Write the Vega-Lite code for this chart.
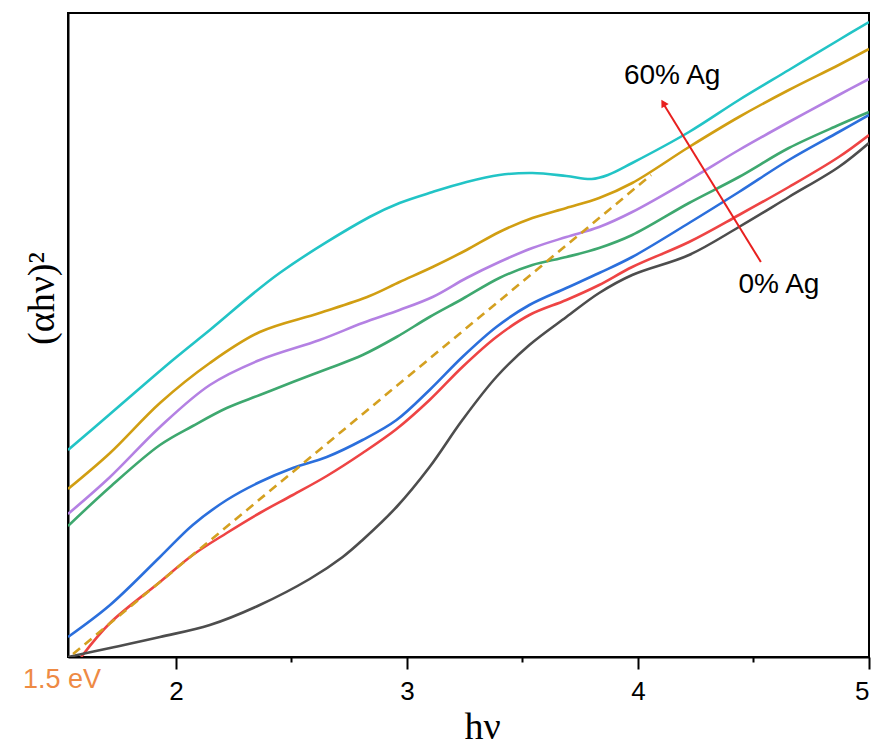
{
  "$schema": "https://vega.github.io/schema/vega-lite/v6.json",
  "width": 801,
  "height": 644,
  "autosize": "none",
  "padding": {"left": 68, "top": 13, "right": 9, "bottom": 90},
  "background": "white",
  "config": {
    "view": {"stroke": "black", "strokeWidth": 2},
    "font": "Liberation Sans"
  },
  "datasets": {
    "curves": [
      {"s": "60% Ag", "x": 1.533, "y": 207}, {"s": "60% Ag", "x": 1.715, "y": 243}, {"s": "60% Ag", "x": 1.987, "y": 297}, {"s": "60% Ag", "x": 2.147, "y": 327}, {"s": "60% Ag", "x": 2.449, "y": 384}, {"s": "60% Ag", "x": 2.838, "y": 440}, {"s": "60% Ag", "x": 2.968, "y": 454}, {"s": "60% Ag", "x": 3.111, "y": 465}, {"s": "60% Ag", "x": 3.258, "y": 475}, {"s": "60% Ag", "x": 3.4, "y": 482}, {"s": "60% Ag", "x": 3.543, "y": 484}, {"s": "60% Ag", "x": 3.69, "y": 481}, {"s": "60% Ag", "x": 3.8, "y": 478}, {"s": "60% Ag", "x": 3.87, "y": 482}, {"s": "60% Ag", "x": 3.975, "y": 494}, {"s": "60% Ag", "x": 4.221, "y": 525}, {"s": "60% Ag", "x": 4.437, "y": 557}, {"s": "60% Ag", "x": 4.653, "y": 587}, {"s": "60% Ag", "x": 4.869, "y": 617}, {"s": "60% Ag", "x": 5.0, "y": 635},
      {"s": "50% Ag", "x": 1.533, "y": 168}, {"s": "50% Ag", "x": 1.715, "y": 204}, {"s": "50% Ag", "x": 1.931, "y": 254}, {"s": "50% Ag", "x": 2.147, "y": 294}, {"s": "50% Ag", "x": 2.363, "y": 325}, {"s": "50% Ag", "x": 2.622, "y": 344}, {"s": "50% Ag", "x": 2.838, "y": 361}, {"s": "50% Ag", "x": 2.968, "y": 375}, {"s": "50% Ag", "x": 3.111, "y": 390}, {"s": "50% Ag", "x": 3.258, "y": 407}, {"s": "50% Ag", "x": 3.4, "y": 425}, {"s": "50% Ag", "x": 3.543, "y": 439}, {"s": "50% Ag", "x": 3.69, "y": 449}, {"s": "50% Ag", "x": 3.832, "y": 459}, {"s": "50% Ag", "x": 3.975, "y": 474}, {"s": "50% Ag", "x": 4.221, "y": 510}, {"s": "50% Ag", "x": 4.437, "y": 540}, {"s": "50% Ag", "x": 4.653, "y": 567}, {"s": "50% Ag", "x": 4.869, "y": 592}, {"s": "50% Ag", "x": 5.0, "y": 608},
      {"s": "40% Ag", "x": 1.533, "y": 143}, {"s": "40% Ag", "x": 1.715, "y": 180}, {"s": "40% Ag", "x": 1.931, "y": 230}, {"s": "40% Ag", "x": 2.147, "y": 272}, {"s": "40% Ag", "x": 2.363, "y": 297}, {"s": "40% Ag", "x": 2.622, "y": 317}, {"s": "40% Ag", "x": 2.808, "y": 334}, {"s": "40% Ag", "x": 2.968, "y": 347}, {"s": "40% Ag", "x": 3.111, "y": 360}, {"s": "40% Ag", "x": 3.258, "y": 379}, {"s": "40% Ag", "x": 3.4, "y": 395}, {"s": "40% Ag", "x": 3.543, "y": 409}, {"s": "40% Ag", "x": 3.69, "y": 420}, {"s": "40% Ag", "x": 3.832, "y": 430}, {"s": "40% Ag", "x": 3.975, "y": 445}, {"s": "40% Ag", "x": 4.221, "y": 477}, {"s": "40% Ag", "x": 4.437, "y": 507}, {"s": "40% Ag", "x": 4.653, "y": 535}, {"s": "40% Ag", "x": 4.869, "y": 562}, {"s": "40% Ag", "x": 5.0, "y": 578},
      {"s": "30% Ag", "x": 1.533, "y": 131}, {"s": "30% Ag", "x": 1.715, "y": 170}, {"s": "30% Ag", "x": 1.931, "y": 212}, {"s": "30% Ag", "x": 2.073, "y": 231}, {"s": "30% Ag", "x": 2.22, "y": 249}, {"s": "30% Ag", "x": 2.363, "y": 262}, {"s": "30% Ag", "x": 2.506, "y": 275}, {"s": "30% Ag", "x": 2.666, "y": 289}, {"s": "30% Ag", "x": 2.808, "y": 302}, {"s": "30% Ag", "x": 2.955, "y": 320}, {"s": "30% Ag", "x": 3.098, "y": 340}, {"s": "30% Ag", "x": 3.24, "y": 358}, {"s": "30% Ag", "x": 3.4, "y": 379}, {"s": "30% Ag", "x": 3.543, "y": 392}, {"s": "30% Ag", "x": 3.69, "y": 400}, {"s": "30% Ag", "x": 3.832, "y": 409}, {"s": "30% Ag", "x": 3.975, "y": 422}, {"s": "30% Ag", "x": 4.221, "y": 454}, {"s": "30% Ag", "x": 4.437, "y": 480}, {"s": "30% Ag", "x": 4.653, "y": 509}, {"s": "30% Ag", "x": 4.869, "y": 532}, {"s": "30% Ag", "x": 5.0, "y": 545},
      {"s": "20% Ag", "x": 1.533, "y": 20}, {"s": "20% Ag", "x": 1.715, "y": 52}, {"s": "20% Ag", "x": 1.931, "y": 100}, {"s": "20% Ag", "x": 2.073, "y": 132}, {"s": "20% Ag", "x": 2.22, "y": 157}, {"s": "20% Ag", "x": 2.363, "y": 175}, {"s": "20% Ag", "x": 2.506, "y": 189}, {"s": "20% Ag", "x": 2.653, "y": 200}, {"s": "20% Ag", "x": 2.808, "y": 217}, {"s": "20% Ag", "x": 2.955, "y": 237}, {"s": "20% Ag", "x": 3.098, "y": 267}, {"s": "20% Ag", "x": 3.24, "y": 300}, {"s": "20% Ag", "x": 3.387, "y": 330}, {"s": "20% Ag", "x": 3.53, "y": 352}, {"s": "20% Ag", "x": 3.69, "y": 369}, {"s": "20% Ag", "x": 3.832, "y": 384}, {"s": "20% Ag", "x": 3.975, "y": 400}, {"s": "20% Ag", "x": 4.221, "y": 434}, {"s": "20% Ag", "x": 4.437, "y": 465}, {"s": "20% Ag", "x": 4.653, "y": 497}, {"s": "20% Ag", "x": 4.869, "y": 525}, {"s": "20% Ag", "x": 5.0, "y": 542},
      {"s": "10% Ag", "x": 1.59, "y": 0}, {"s": "10% Ag", "x": 1.715, "y": 34}, {"s": "10% Ag", "x": 1.931, "y": 75}, {"s": "10% Ag", "x": 2.073, "y": 102}, {"s": "10% Ag", "x": 2.22, "y": 124}, {"s": "10% Ag", "x": 2.363, "y": 144}, {"s": "10% Ag", "x": 2.506, "y": 162}, {"s": "10% Ag", "x": 2.653, "y": 181}, {"s": "10% Ag", "x": 2.808, "y": 204}, {"s": "10% Ag", "x": 2.955, "y": 228}, {"s": "10% Ag", "x": 3.098, "y": 257}, {"s": "10% Ag", "x": 3.24, "y": 290}, {"s": "10% Ag", "x": 3.387, "y": 320}, {"s": "10% Ag", "x": 3.53, "y": 342}, {"s": "10% Ag", "x": 3.69, "y": 357}, {"s": "10% Ag", "x": 3.832, "y": 372}, {"s": "10% Ag", "x": 3.975, "y": 390}, {"s": "10% Ag", "x": 4.221, "y": 415}, {"s": "10% Ag", "x": 4.437, "y": 442}, {"s": "10% Ag", "x": 4.653, "y": 470}, {"s": "10% Ag", "x": 4.869, "y": 500}, {"s": "10% Ag", "x": 5.0, "y": 522},
      {"s": "0% Ag", "x": 1.533, "y": 0}, {"s": "0% Ag", "x": 1.715, "y": 9}, {"s": "0% Ag", "x": 1.931, "y": 20}, {"s": "0% Ag", "x": 2.147, "y": 32}, {"s": "0% Ag", "x": 2.363, "y": 52}, {"s": "0% Ag", "x": 2.579, "y": 78}, {"s": "0% Ag", "x": 2.722, "y": 100}, {"s": "0% Ag", "x": 2.808, "y": 117}, {"s": "0% Ag", "x": 2.955, "y": 150}, {"s": "0% Ag", "x": 3.098, "y": 190}, {"s": "0% Ag", "x": 3.24, "y": 237}, {"s": "0% Ag", "x": 3.387, "y": 280}, {"s": "0% Ag", "x": 3.53, "y": 312}, {"s": "0% Ag", "x": 3.69, "y": 340}, {"s": "0% Ag", "x": 3.832, "y": 364}, {"s": "0% Ag", "x": 3.975, "y": 382}, {"s": "0% Ag", "x": 4.221, "y": 402}, {"s": "0% Ag", "x": 4.437, "y": 430}, {"s": "0% Ag", "x": 4.653, "y": 460}, {"s": "0% Ag", "x": 4.869, "y": 490}, {"s": "0% Ag", "x": 5.0, "y": 514}
    ],
    "tangent": [
      {"x": 1.555, "y": 3},
      {"x": 4.057, "y": 482}
    ],
    "arrow": [
      {"x": 4.532, "y": 395, "x2": 4.108, "y2": 554}
    ],
    "head": [
      {"x": 4.112, "y": 553}
    ],
    "labels": [
      {"x": 4.148, "y": 581, "t": "60% Ag"},
      {"x": 4.61, "y": 372, "t": "0% Ag"}
    ],
    "edge": [
      {"x": 1.507, "y": -23, "t": "1.5 eV"}
    ]
  },
  "layer": [
    {
      "data": {"name": "curves"},
      "mark": {"type": "line", "interpolate": "catmull-rom", "strokeWidth": 2.6, "clip": true},
      "encoding": {
        "x": {
          "field": "x", "type": "quantitative",
          "scale": {"domain": [1.533, 5], "nice": false, "zero": false},
          "axis": {
            "values": [2, 2.5, 3, 3.5, 4, 4.5, 5],
            "labelExpr": "datum.value % 1 === 0 ? format(datum.value, 'd') : ''",
            "tickSize": {"condition": {"test": "datum.value % 1 !== 0", "value": 5}, "value": 12},
            "tickColor": "black", "tickWidth": 2,
            "domainColor": "black", "domainWidth": 2,
            "grid": false,
            "labelFont": "Liberation Sans", "labelFontSize": 26, "labelColor": "black", "labelPadding": 9,
            "title": "hν", "titleFont": "Liberation Serif", "titleFontSize": 38, "titleFontWeight": "normal", "titleColor": "black",
            "titleX": 414, "titleY": 81, "titleBaseline": "alphabetic", "titleAlign": "center"
          }
        },
        "y": {
          "field": "y", "type": "quantitative",
          "scale": {"domain": [0, 644], "nice": false, "zero": false},
          "axis": {
            "labels": false, "ticks": false, "grid": false,
            "domainColor": "black", "domainWidth": 2,
            "title": "(αhν)²", "titleFont": "Liberation Serif", "titleFontSize": 38, "titleFontWeight": "normal", "titleColor": "black",
            "titleAngle": -90, "titleX": -26, "titleY": 285, "titleAlign": "center", "titleBaseline": "middle"
          }
        },
        "color": {
          "field": "s", "type": "nominal", "legend": null,
          "scale": {
            "domain": ["0% Ag", "10% Ag", "20% Ag", "30% Ag", "40% Ag", "50% Ag", "60% Ag"],
            "range": ["#4d4d4d", "#ee4444", "#2b6fdc", "#3ea86f", "#b481e3", "#d19e12", "#22c4c6"]
          }
        },
        "detail": {"field": "s"}
      }
    },
    {
      "data": {"name": "tangent"},
      "mark": {"type": "line", "color": "#d4a020", "strokeWidth": 2.6, "strokeDash": [9, 6]},
      "encoding": {
        "x": {"field": "x", "type": "quantitative"},
        "y": {"field": "y", "type": "quantitative"}
      }
    },
    {
      "data": {"name": "arrow"},
      "mark": {"type": "rule", "color": "#e8201f", "strokeWidth": 2},
      "encoding": {
        "x": {"field": "x", "type": "quantitative"},
        "y": {"field": "y", "type": "quantitative"},
        "x2": {"field": "x2"},
        "y2": {"field": "y2"}
      }
    },
    {
      "data": {"name": "head"},
      "mark": {"type": "point", "shape": "triangle", "filled": true, "color": "#e8201f", "size": 70, "angle": 329, "opacity": 1},
      "encoding": {
        "x": {"field": "x", "type": "quantitative"},
        "y": {"field": "y", "type": "quantitative"}
      }
    },
    {
      "data": {"name": "labels"},
      "mark": {"type": "text", "font": "Liberation Sans", "fontSize": 28, "color": "black", "align": "center", "baseline": "middle"},
      "encoding": {
        "x": {"field": "x", "type": "quantitative"},
        "y": {"field": "y", "type": "quantitative"},
        "text": {"field": "t"}
      }
    },
    {
      "data": {"name": "edge"},
      "mark": {"type": "text", "font": "Liberation Sans", "fontSize": 27, "color": "#ee8a44", "align": "center", "baseline": "middle", "clip": false},
      "encoding": {
        "x": {"field": "x", "type": "quantitative"},
        "y": {"field": "y", "type": "quantitative"},
        "text": {"field": "t"}
      }
    }
  ]
}
